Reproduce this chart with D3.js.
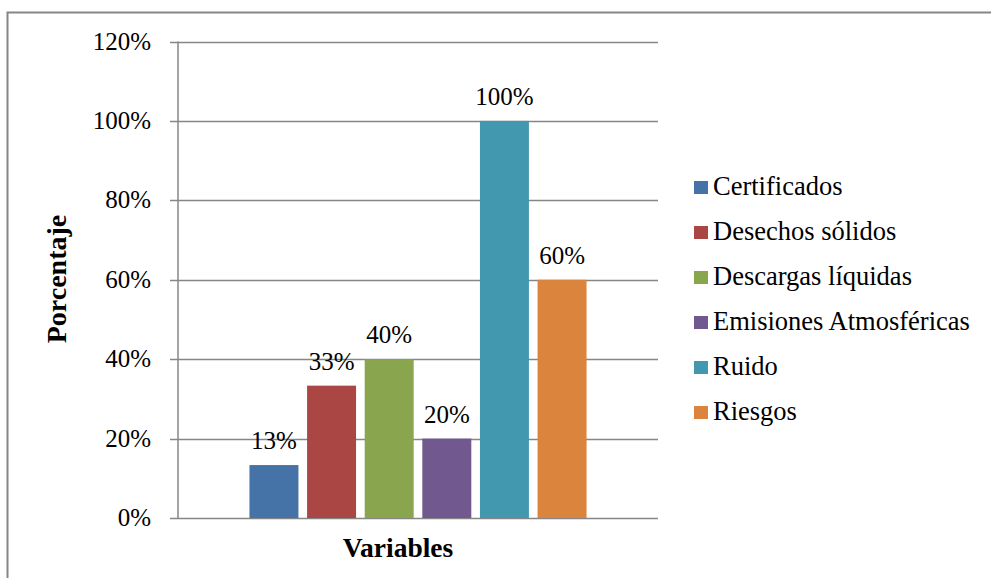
<!DOCTYPE html>
<html><head><meta charset="utf-8">
<script src="https://cdn.jsdelivr.net/npm/d3@7"></script>
<style>body{margin:0;background:#fff}</style>
</head><body>
<svg id="c" width="991" height="578" font-family="'Liberation Serif', Tinos, 'Times New Roman', 'DejaVu Serif', serif"></svg>
<script>
const categories = ["Variables"];
const seriesNames = ["Certificados","Desechos sólidos","Descargas líquidas","Emisiones Atmosféricas","Ruido","Riesgos"];
const seriesValues = [0.1333, 0.3333, 0.40, 0.20, 1.00, 0.60];
const seriesColors = ["#4572A7","#AA4643","#89A54E","#71588F","#4198AF","#DB843D"];
const yTicks = [0, 0.2, 0.4, 0.6, 0.8, 1.0, 1.2];

(function(){
const FF = "'Liberation Serif', Tinos, 'Times New Roman', 'DejaVu Serif', serif";
const svg = d3.select("#c");
svg.append("rect").attr("x",7.5).attr("y",12.5).attr("width",1000).attr("height",600)
  .attr("fill","#fff").attr("stroke","#868686").attr("stroke-width",2);

const pL=178, pR=658, pT=41.5, pB=518;
const y = d3.scaleLinear().domain([0,1.2]).range([pB, pT]);
const x0 = d3.scaleBand().domain(categories).range([pL,pR]).paddingInner(0).paddingOuter(0.212);
const x1 = d3.scaleBand().domain(seriesNames).range([x0("Variables"), x0("Variables")+x0.bandwidth()]).paddingInner(0.15).paddingOuter(0);

svg.append("g").selectAll("line").data(yTicks).join("line")
  .attr("x1",170).attr("x2",pR).attr("y1",d=>Math.round(y(d))+0.5).attr("y2",d=>Math.round(y(d))+0.5)
  .attr("stroke","#868686").attr("stroke-width",1.5);
svg.append("line").attr("x1",pL).attr("x2",pL).attr("y1",pT).attr("y2",pB+1)
  .attr("stroke","#868686").attr("stroke-width",1.5);
svg.append("g").selectAll("text").data(yTicks).join("text")
  .attr("x",151).attr("y",d=>y(d)+8).attr("text-anchor","end")
  .style("font-family",FF).style("font-size","25px")
  .text(d=>d3.format(".0%")(d));

const g = svg.append("g");
g.selectAll("rect").data(seriesValues).join("rect")
  .attr("x",(d,i)=>x1(seriesNames[i])).attr("width",x1.bandwidth())
  .attr("y",d=>y(d)).attr("height",d=>pB-y(d)).attr("fill",(d,i)=>seriesColors[i]);
g.selectAll("text").data(seriesValues).join("text")
  .attr("x",(d,i)=>x1(seriesNames[i])+x1.bandwidth()/2).attr("y",d=>y(d)-16)
  .attr("text-anchor","middle").style("font-family",FF).style("font-size","25px")
  .text(d=>d3.format(".0%")(d));

svg.append("text").attr("x",398).attr("y",557).attr("text-anchor","middle")
  .style("font-family",FF).style("font-size","27.5px").style("font-weight","bold").text("Variables");
svg.append("text").attr("transform","translate(66,279) rotate(-90)").attr("text-anchor","middle")
  .style("font-family",FF).style("font-size","28px").style("font-weight","bold").text("Porcentaje");

const lg = svg.append("g").selectAll("g").data(seriesNames).join("g")
  .attr("transform",(d,i)=>`translate(694,${195+i*45})`);
lg.append("rect").attr("x",0).attr("y",-14).attr("width",14).attr("height",13).attr("fill",(d,i)=>seriesColors[i]);
lg.append("text").attr("x",19).attr("y",0).style("font-family",FF).style("font-size","26.5px").text(d=>d);
})();
</script>
</body></html>
